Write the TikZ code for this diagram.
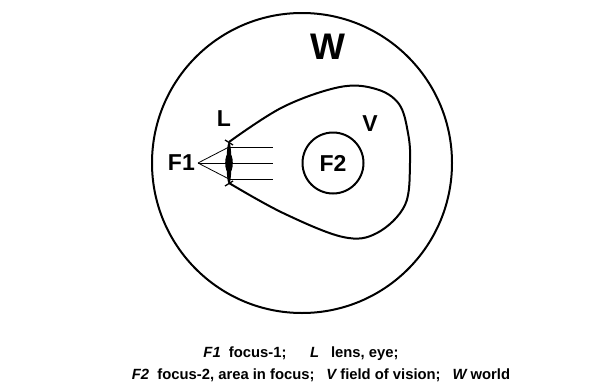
\documentclass[tikz,border=0pt]{standalone}
\usepackage{fontspec}
\setmainfont{Liberation Sans}
\begin{document}
\begin{tikzpicture}[x=1pt,y=-1pt,
  lbl/.style={font=\bfseries\fontsize{23}{23}\selectfont, inner sep=0pt},
  thickline/.style={line width=2pt},
  ray/.style={line width=0.8pt},
  captext/.style={font=\bfseries\fontsize{14.8}{17}\selectfont, inner sep=0pt, anchor=base}]
\useasboundingbox (0,0) rectangle (616,391);
% world
\node[draw, thickline, circle, minimum size=300pt, inner sep=0pt] (world) at (302,163) {};
\node[font=\bfseries\fontsize{37}{37}\selectfont, inner sep=0pt] (W) at (328,47) {W};
% field of vision
\draw[thickline, line join=round] plot[smooth, tension=0.6] coordinates {
 (229,142) (283,107) (340,87) (376,89) (399,104) (408,133) (410,163) (405,205) (377,233) (343,237) (283,213) (229,183)};
\node[lbl] (V) at (370,124) {V};
% focus 2
\node[draw, thickline, circle, minimum size=61pt, inner sep=0pt, lbl] (F2) at (333,163) {F2};
% lens
\coordinate (lt) at (229,147);
\coordinate (lm) at (229,163);
\coordinate (lb) at (229,179);
\fill (229,163) ellipse [x radius=2.4, y radius=21];
\fill (229,163) ellipse [x radius=3.8, y radius=10];
\draw[line width=1.3pt] (225,140) -- (233,145);
\draw[line width=1.3pt] (225,186) -- (233,181);
\node[lbl] (L) at (224,119) {L};
% focus 1
\coordinate (f1) at (198,163);
\node[lbl, anchor=east] (F1) at (195,163) {F1};
\draw[ray] (f1) -- (lt);
\draw[ray] (f1) -- (lm);
\draw[ray] (f1) -- (lb);
\coordinate (e1) at (273,147);
\coordinate (e2) at (273,163);
\coordinate (e3) at (273,179);
\draw[ray] (lt) -- (e1);
\draw[ray] (lm) -- (e2);
\draw[ray] (lb) -- (e3);
% caption
\node[captext] (c1) at (301,357) {\itshape F1\upshape\ \ focus-1;\hspace{1.6em}\itshape L\upshape\hspace{0.8em}lens, eye;};
\node[captext] (c2) at (321,379) {\itshape F2\upshape\ \ focus-2, area in focus;\hspace{0.8em}\itshape V\upshape\ field of vision;\hspace{0.8em}\itshape W\upshape\ world};
\end{tikzpicture}
\end{document}
